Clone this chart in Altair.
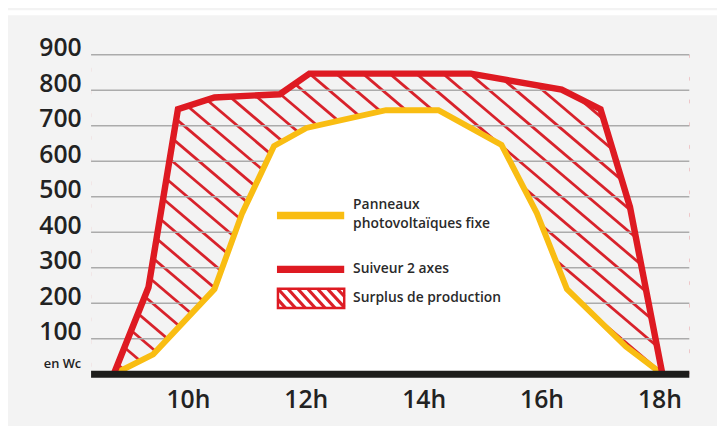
import altair as alt
import pandas as pd

# ---------------- data ----------------
hours_red = [8.74, 9.33, 9.83, 10.45, 11.56, 12.06, 14.80, 16.34, 17.00, 17.50, 18.05]
watts_red = [0, 245, 747, 780, 789, 847, 847, 802, 747, 471, 0]

hours_yellow = [8.74, 9.41, 10.45, 10.92, 11.46, 12.01, 13.36, 14.25, 15.32, 15.92, 16.43, 17.43, 18.05]
watts_yellow = [0, 56, 240, 454, 643, 694, 744, 744, 646, 454, 240, 78, 0]

y_ticks = [100, 200, 300, 400, 500, 600, 700, 800, 900]
x_ticks = [10, 12, 14, 16, 18]
unit_label = "en Wc"
legend_labels = ["Panneaux", "photovoltaïques fixe", "Suiveur 2 axes", "Surplus de production"]

# ---------------- style / layout ----------------
BG = "#f3f3f3"
RED = "#de1a22"
YEL = "#f9bd12"
GRID = "#ababab"
TXT = "#222222"
FONT = "Open Sans"
W, H = 605, 323
PXH = 59.6                      # pixels per hour
XMIN = 10 - 98 / PXH
XMAX = XMIN + W / PXH

xs = alt.Scale(domain=[XMIN, XMAX], nice=False, zero=False)
ys = alt.Scale(domain=[0, 900], nice=False, zero=False)

red_df = pd.DataFrame({"h": hours_red, "w": watts_red})
yel_df = pd.DataFrame({"h": hours_yellow, "w": watts_yellow})
cover_df = pd.DataFrame({"h": [XMIN - 1] + hours_red + [XMAX + 1],
                         "w": [0] + watts_red + [0]})
grid_df = pd.DataFrame({"w": y_ticks})

# hatch pattern (style): diagonal lines, slope S in pixels, spacing 27px
S = 0.85
hatch = []
for k in range(-25, 40):
    c = 221 + 27 * k
    px_top = c - 19 / S
    px_bot = c + (H - 19) / S
    if px_bot < -10 or px_top > W + 10:
        continue
    hatch.append({"h1": XMIN + px_top / PXH, "w1": 900,
                  "h2": XMIN + px_bot / PXH, "w2": 0})
hatch_df = pd.DataFrame(hatch)

one = pd.DataFrame({"a": [0]})

x_axis = alt.Axis(values=x_ticks, labelExpr="datum.value + 'h'", grid=False,
                  domain=False, ticks=False, tickSize=0, labelPadding=34,
                  labelOverlap=False, labelFlush=False, labelBound=False,
                  labelBaseline="alphabetic", labelFont=FONT, labelFontWeight=600,
                  labelFontSize=25, labelColor=TXT, title=None)
y_axis = alt.Axis(values=y_ticks,
                  grid=False, domain=False, ticks=False, tickSize=0, labelPadding=10,
                  labelOverlap=False, labelFlush=False, labelBound=False,
                  labelBaseline="alphabetic", labelFont=FONT, labelFontWeight=600,
                  labelFontSize=25, labelOffset=1,
                  labelColor=TXT, title=None)

hatch_layer = alt.Chart(hatch_df).mark_rule(color="#d8222b", strokeWidth=2.8, clip=True).encode(
    x=alt.X("h1:Q", scale=xs, axis=x_axis), y=alt.Y("w1:Q", scale=ys, axis=y_axis),
    x2="h2:Q", y2="w2:Q")

cover = alt.Chart(cover_df).mark_area(color=BG, opacity=1, clip=True).encode(
    x=alt.X("h:Q", scale=xs), y=alt.Y("w:Q", scale=ys),
    y2=alt.datum(900))

grid = alt.Chart(grid_df).mark_rule(color=GRID, strokeWidth=1.6).encode(
    y=alt.Y("w:Q", scale=ys), x=alt.value(0), x2=alt.value(W))

white = alt.Chart(yel_df).mark_area(color="white", opacity=1, clip=True).encode(
    x=alt.X("h:Q", scale=xs), y=alt.Y("w:Q", scale=ys), y2=alt.datum(0))

yel_line = alt.Chart(yel_df).mark_line(color=YEL, strokeWidth=6, clip=True).encode(
    x=alt.X("h:Q", scale=xs), y=alt.Y("w:Q", scale=ys))
red_line = alt.Chart(red_df).mark_line(color=RED, strokeWidth=6.5, clip=True).encode(
    x=alt.X("h:Q", scale=xs), y=alt.Y("w:Q", scale=ys))

baseline = alt.Chart(one).mark_rule(color="#1d1d1b", strokeWidth=7).encode(
    y=alt.Y(datum=0, scale=ys), x=alt.value(0), x2=alt.value(W))

unit_text = alt.Chart(one).mark_text(align="right", baseline="alphabetic", font=FONT,
                                     fontWeight=600, fontSize=13, color=TXT, dy=-6).encode(
    y=alt.Y(datum=0, scale=ys), x=alt.value(-10), text=alt.value(unit_label))

# ---------------- legend (drawn) ----------------
sw_yel = alt.Chart(one).mark_rule(color=YEL, strokeWidth=7.5).encode(
    x=alt.value(188), x2=alt.value(256), y=alt.value(162.5))
sw_red = alt.Chart(one).mark_rule(color=RED, strokeWidth=7.5).encode(
    x=alt.value(188), x2=alt.value(256), y=alt.value(217))

rx0, rx1, ry0, ry1 = 189, 256, 236.5, 256
S2 = 1.1
stripes = []
for k in range(-4, 12):
    c = rx0 - 10 + 10 * k
    a = max(c, rx0)
    b = min(c + (ry1 - ry0) / S2, rx1)
    if a < b:
        stripes.append({"x1": a, "y1": ry0 + S2 * (a - c), "x2": b, "y2": ry0 + S2 * (b - c)})
stripe_df = pd.DataFrame(stripes)
sw_rect_bg = alt.Chart(one).mark_rect(color="white").encode(
    x=alt.value(rx0), x2=alt.value(rx1), y=alt.value(ry0), y2=alt.value(ry1))
sw_stripes = alt.Chart(stripe_df).mark_rule(color="#dc1f28", strokeWidth=3.2, strokeCap="butt").encode(
    x=alt.X("x1:Q", scale=None), y=alt.Y("y1:Q", scale=None),
    x2="x2:Q", y2="y2:Q")
sw_rect = alt.Chart(one).mark_rect(fill=None, stroke=RED, strokeWidth=2.5, fillOpacity=0).encode(
    x=alt.value(rx0), x2=alt.value(rx1), y=alt.value(ry0), y2=alt.value(ry1))

leg_df = pd.DataFrame({"t": legend_labels, "px": [265] * 4, "py": [152, 171.5, 216.5, 245.5]})
leg_text = alt.Chart(leg_df).mark_text(align="left", baseline="middle", font=FONT,
                                       fontWeight=600, fontSize=14, color="#2a2a2a").encode(
    x=alt.X("px:Q", scale=None), y=alt.Y("py:Q", scale=None), text="t:N")

top_strip = alt.Chart(one).mark_rect(color="white").encode(
    x=alt.value(-84), x2=alt.value(W + 28), y=alt.value(-45), y2=alt.value(-40))

chart = alt.layer(
    hatch_layer, cover, grid, white, yel_line, red_line, baseline, unit_text,
    sw_yel, sw_red, sw_rect_bg, sw_stripes, sw_rect, leg_text, top_strip
).properties(
    width=W, height=H, background=BG,
    padding={"left": 84, "top": 45, "right": 28, "bottom": 50},
    autosize=alt.AutoSizeParams(type="none")
).configure_view(strokeWidth=0).configure_axis(labelOverlap=False)

chart.save("out.html", embed_options={"renderer": "svg", "actions": False})
